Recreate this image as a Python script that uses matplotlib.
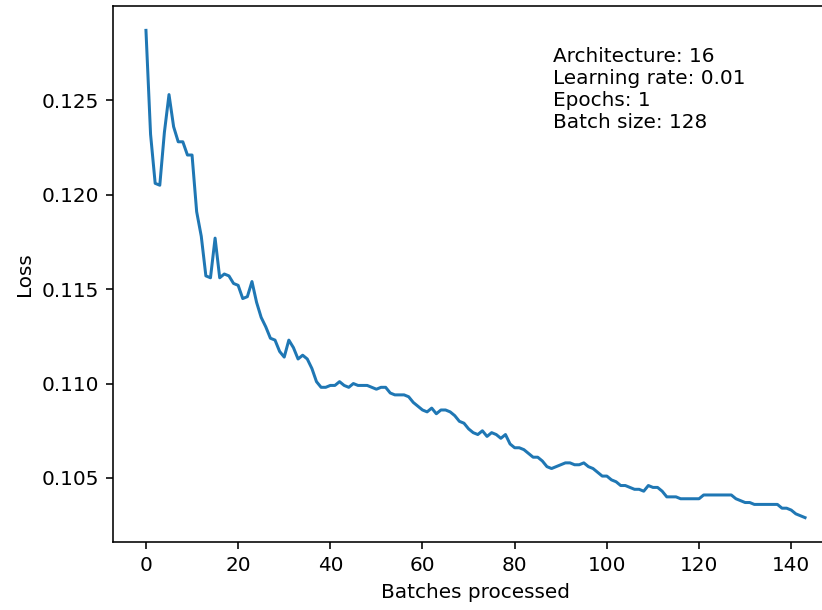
import numpy as np
import matplotlib.pyplot as plt

# loss per batch
loss = [0.1287, 0.1232, 0.1206, 0.1205, 0.1233, 0.1253, 0.1236, 0.1228, 0.1228, 0.1221,
        0.1221, 0.1191, 0.1178, 0.1157, 0.1156, 0.1177, 0.1156, 0.1158, 0.1157, 0.1153,
        0.1152, 0.1145, 0.1146, 0.1154, 0.1143, 0.1135, 0.1130, 0.1124, 0.1123, 0.1117,
        0.1114, 0.1123, 0.1119, 0.1113, 0.1115, 0.1113, 0.1108, 0.1101, 0.1098, 0.1098,
        0.1099, 0.1099, 0.1101, 0.1099, 0.1098, 0.1100, 0.1099, 0.1099, 0.1099, 0.1098,
        0.1097, 0.1098, 0.1098, 0.1095, 0.1094, 0.1094, 0.1094, 0.1093, 0.1090, 0.1088,
        0.1086, 0.1085, 0.1087, 0.1084, 0.1086, 0.1086, 0.1085, 0.1083, 0.1080, 0.1079,
        0.1076, 0.1074, 0.1073, 0.1075, 0.1072, 0.1074, 0.1073, 0.1071, 0.1073, 0.1068,
        0.1066, 0.1066, 0.1065, 0.1063, 0.1061, 0.1061, 0.1059, 0.1056, 0.1055, 0.1056,
        0.1057, 0.1058, 0.1058, 0.1057, 0.1057, 0.1058, 0.1056, 0.1055, 0.1053, 0.1051,
        0.1051, 0.1049, 0.1048, 0.1046, 0.1046, 0.1045, 0.1044, 0.1044, 0.1043, 0.1046,
        0.1045, 0.1045, 0.1043, 0.1040, 0.1040, 0.1040, 0.1039, 0.1039, 0.1039, 0.1039,
        0.1039, 0.1041, 0.1041, 0.1041, 0.1041, 0.1041, 0.1041, 0.1041, 0.1039, 0.1038,
        0.1037, 0.1037, 0.1036, 0.1036, 0.1036, 0.1036, 0.1036, 0.1036, 0.1034, 0.1034,
        0.1033, 0.1031, 0.1030, 0.1029]
batches = np.arange(len(loss))

info = "Architecture: 16\nLearning rate: 0.01\nEpochs: 1\nBatch size: 128"

fig = plt.figure(figsize=(822/144, 610/144), dpi=144)
# the reference is cut off on the right, so the axes run past the edge
ax = fig.add_axes([113/822, 1 - 542/610, 725/822, 536/610])
ax.plot(batches, loss)
ax.set_xlabel("Batches processed")
ax.set_ylabel("Loss")
ax.text(0.607, 0.924, info, transform=ax.transAxes, ha="left", va="top")

fig.savefig("out.png", dpi=144)
